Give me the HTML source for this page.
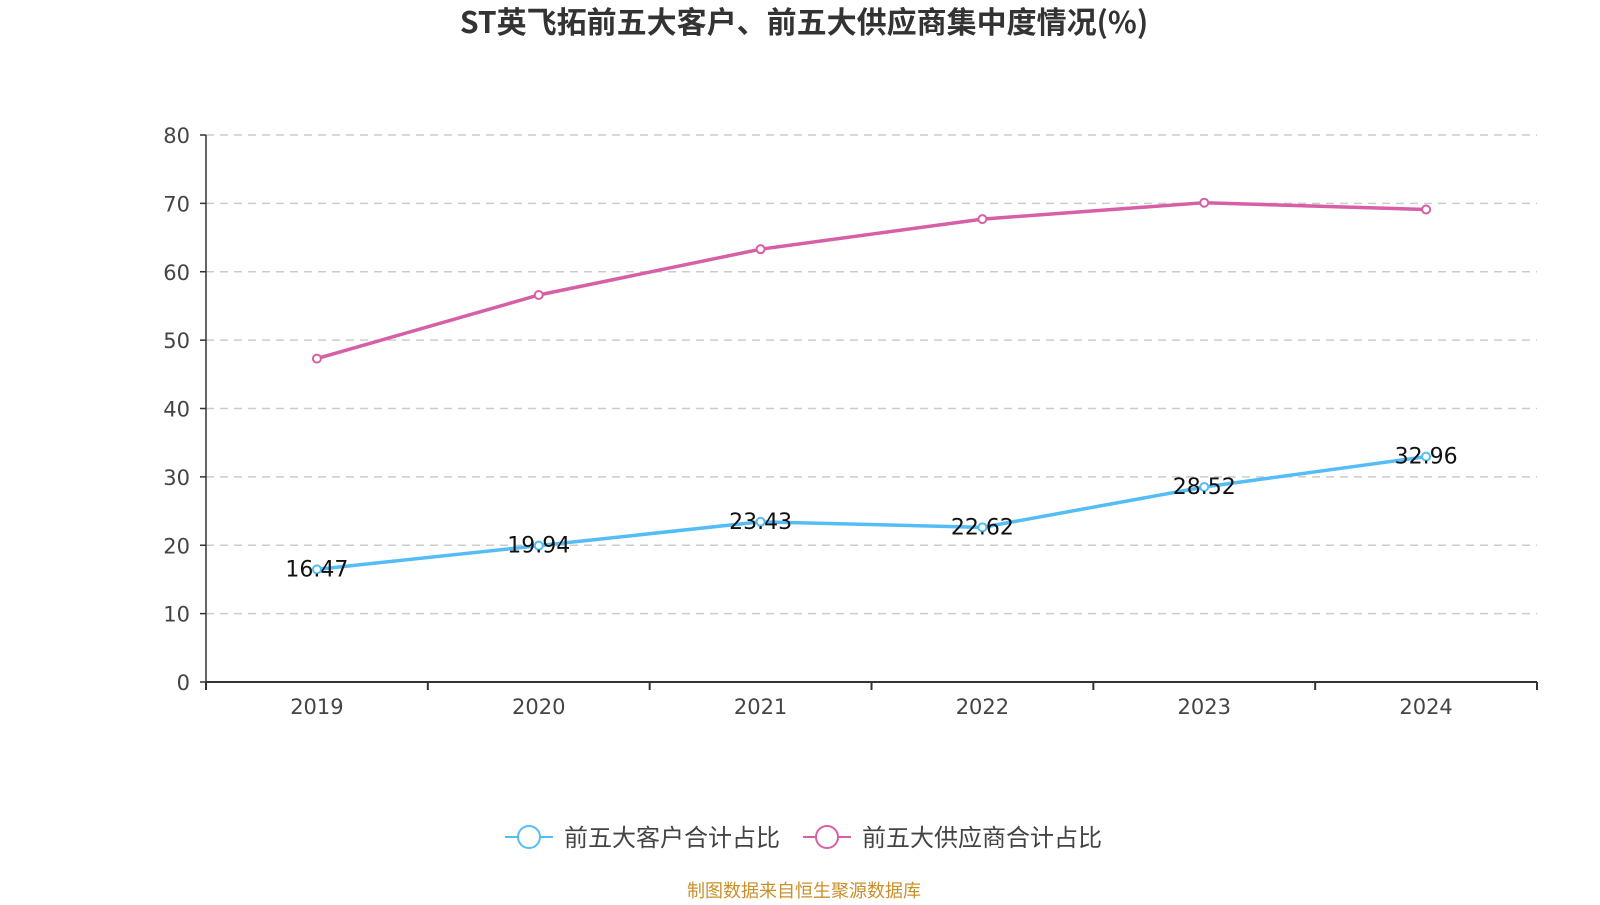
<!DOCTYPE html>
<html><head><meta charset="utf-8"><style>
body{margin:0;background:#fff;width:1600px;height:900px;overflow:hidden;font-family:"Liberation Sans","Noto Sans CJK SC",sans-serif}
</style></head><body>
<svg id="c" width="1600" height="900" font-family="'Noto Sans CJK SC','Liberation Sans',sans-serif"></svg>
<script>
const categories=["2019","2020","2021","2022","2023","2024"];
const customers=[16.47,19.94,23.43,22.62,28.52,32.96];
const suppliers=[47.3,56.6,63.3,67.7,70.1,69.1];
const yTicks=[0,10,20,30,40,50,60,70,80];
const L=206,R=1537,T=135,B=682,yMax=80;
const NUMF="'DejaVu Sans',sans-serif";
const svg=document.getElementById('c');const ns='http://www.w3.org/2000/svg';
function el(t,a,txt){const e=document.createElementNS(ns,t);for(const k in a)e.setAttribute(k,a[k]);if(txt!=null)e.textContent=txt;svg.appendChild(e);return e;}
const cw=(R-L)/categories.length;
const x=i=>L+cw*(i+0.5);
const y=v=>B-(v/yMax)*(B-T);
let e=el('text',{x:804,y:33,'text-anchor':'middle','font-size':30,'font-weight':'bold',fill:'#333'},'ST英飞拓前五大客户、前五大供应商集中度情况(%)');


yTicks.forEach(v=>{
 if(v>0){const g=el('line',{x1:L,x2:R,y1:y(v),y2:y(v),stroke:'#ccc','stroke-width':1.5,'stroke-dasharray':'8,6'});
 
 }
 const tk=el('line',{x1:L-6,x2:L,y1:y(v),y2:y(v),stroke:'#333','stroke-width':1.5});
 
 
 const t=el('text',{x:L-16,y:y(v)+8,'text-anchor':'end','font-size':21,'font-family':NUMF,fill:'#444'},v);
 
 
});
e=el('line',{x1:L,x2:L,y1:T,y2:B,stroke:'#333','stroke-width':1.5});


e=el('line',{x1:L,x2:R,y1:B,y2:B,stroke:'#333','stroke-width':2});


for(let i=0;i<=categories.length;i++){const tk=el('line',{x1:L+cw*i,x2:L+cw*i,y1:B,y2:B+8,stroke:'#333','stroke-width':2});
 
 }
categories.forEach((c,i)=>{const t=el('text',{x:x(i),y:B+32,'text-anchor':'middle','font-size':21,'font-family':NUMF,fill:'#444'},c);
 
 });
function series(vals,color,name,labels){
 const p=el('polyline',{points:vals.map((v,i)=>x(i)+','+y(v)).join(' '),fill:'none',stroke:color,'stroke-width':3.5});
 
 
 vals.forEach((v,i)=>{
  const c=el('circle',{cx:x(i),cy:y(v),r:4,fill:'#fff',stroke:color,'stroke-width':2});
  
  
  if(labels){const t=el('text',{x:x(i),y:y(v)+7,'text-anchor':'middle','font-size':22,'font-family':NUMF,fill:'#111'},v.toFixed(2));
  
  }
 });
}
series(suppliers,'#d75fa6','suppliers',false);
series(customers,'#55bdf5','customers',true);
function legend(lx,color,label,name){
 const l=el('line',{x1:lx,x2:lx+48,y1:837,y2:837,stroke:color,'stroke-width':2});
 
 
 const c=el('circle',{cx:lx+24,cy:837,r:11,fill:'#fff',stroke:color,'stroke-width':2});
 
 
 const t=el('text',{x:lx+59,y:846,'font-size':24,fill:'#444'},label);
 
 
}
legend(505,'#55bdf5','前五大客户合计占比','customers');
legend(803,'#d75fa6','前五大供应商合计占比','suppliers');
e=el('text',{x:804,y:897,'text-anchor':'middle','font-size':18,fill:'#c8902a'},'制图数据来自恒生聚源数据库');


</script>
</body></html>
